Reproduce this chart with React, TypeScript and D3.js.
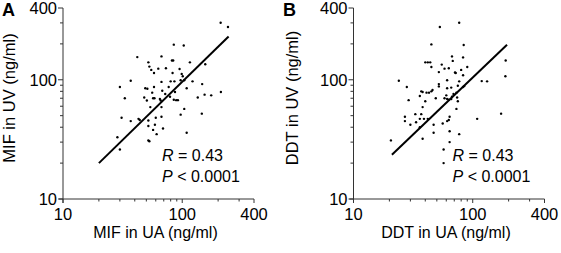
import React from "react";
import * as d3 from "d3";

const majorTicks = [10, 100, 400];
const minorTicks = [20, 30, 40, 50, 60, 70, 80, 90, 200, 300];

const mifUA = [210, 242, 85, 103, 42, 67, 52, 116, 82, 84, 156, 53, 63, 73, 95, 55, 58, 83, 99, 101, 37, 67, 80, 86, 97, 104, 122, 147, 30, 58, 77, 109, 49, 51, 68, 56, 87, 211, 154, 175, 72, 33, 48, 57, 58.5, 65, 79, 85, 89, 92, 50.5, 66, 135, 54, 67, 104, 97, 146, 31, 37, 43, 44, 60, 67, 52, 59, 52, 69, 57, 61, 109, 28.6, 52, 53, 30];
const mifUV = [301, 277, 197, 194, 155, 157, 140, 140, 145, 145, 135, 129, 124, 125, 123, 121, 114, 114, 112, 107, 98, 96, 97, 97, 99, 99, 97, 92, 87, 87, 87, 85, 85, 84, 81, 78, 79, 79, 75, 74, 76, 70, 71, 70, 70, 69, 72, 68, 67.5, 67.5, 67, 67, 71, 59, 59, 57, 51, 52, 48, 45, 47, 46, 48, 49, 45.5, 42, 41, 39, 38, 35, 36, 33, 31, 30.5, 26];
const mifFitUA = [20, 245];
const mifFitUV = [20, 231];

const ddtUA = [53, 77, 45, 84, 40, 42, 44, 45, 55, 67, 68, 83, 58, 63, 52, 71, 72, 80, 90, 83, 24, 61, 77, 189, 119, 132, 188, 28, 52, 52, 61, 66, 75, 83, 85, 37, 38, 41, 43, 45, 46, 36, 40, 49, 29, 58, 61, 63, 66, 67, 69, 73, 60, 74, 75, 38, 73, 27, 27, 33, 37, 36, 39, 30, 33.5, 42, 64, 63, 109, 173, 36, 47, 56, 61, 38, 47, 64, 77, 20.6, 64, 57, 57];
const ddtUV = [277, 301, 198, 196, 140, 140, 140, 128, 134, 157, 144, 154, 124, 125, 116, 115, 114, 121, 128, 109, 98, 99, 97, 145, 97.5, 97, 107, 87, 92, 88, 85, 86, 89, 87, 88.5, 80, 79, 78, 78, 80, 82, 73, 66, 70, 67.5, 70, 69, 68, 69, 72, 76, 78, 74, 71, 66, 59, 57, 49, 45, 51.5, 51.5, 47, 47, 42, 44, 47, 49, 46, 47, 52, 40, 42, 43, 45, 32, 36, 37, 35, 31, 30, 26, 20];
const ddtFitUA = [21, 194];
const ddtFitUV = [23.5, 197];

const FONT = "'Liberation Sans', Arial, Helvetica, sans-serif";

type PanelProps = {
  left: number;
  letter: string;
  letterX: number;
  xs: number[];
  ys: number[];
  fitX: number[];
  fitY: number[];
  xTitle: string;
  yTitle: string;
  yTitleX: number;
};

const TOP = 8;
const SIZE = 191;
const BOTTOM = TOP + SIZE;

function Panel({ left, letter, letterX, xs, ys, fitX, fitY, xTitle, yTitle, yTitleX }: PanelProps) {
  const x = d3.scaleLog().domain([10, 400]).range([left, left + SIZE]);
  const y = d3.scaleLog().domain([10, 400]).range([BOTTOM, TOP]);
  const axisColor = "#333";
  const line = d3
    .line<number>()
    .x((_, i) => x(fitX[i]))
    .y((_, i) => y(fitY[i]));
  return (
    <g fontFamily={FONT}>
      <text x={letterX} y={16} fontSize={18} fontWeight="bold" fill="#000">
        {letter}
      </text>
      <line x1={left} x2={left} y1={TOP} y2={BOTTOM + 4} stroke={axisColor} strokeWidth={1} />
      <line x1={left - 4} x2={left + SIZE} y1={BOTTOM} y2={BOTTOM} stroke={axisColor} strokeWidth={1} />
      {majorTicks.map((t) => (
        <g key={"my" + t}>
          <line x1={left - 5} x2={left} y1={y(t)} y2={y(t)} stroke={axisColor} />
          <text x={left - 6} y={y(t)} dy="0.35em" textAnchor="end" fontSize={16.5} fill="#000">
            {t}
          </text>
        </g>
      ))}
      {minorTicks.map((t) => (
        <line key={"ny" + t} x1={left - 3} x2={left} y1={y(t)} y2={y(t)} stroke={axisColor} />
      ))}
      {majorTicks.map((t) => (
        <g key={"mx" + t}>
          <line x1={x(t)} x2={x(t)} y1={BOTTOM} y2={BOTTOM + 4} stroke={axisColor} />
          <text x={x(t)} y={220} textAnchor="middle" fontSize={16.5} fill="#000">
            {t}
          </text>
        </g>
      ))}
      {minorTicks.map((t) => (
        <line key={"nx" + t} x1={x(t)} x2={x(t)} y1={BOTTOM} y2={BOTTOM + 2.5} stroke={axisColor} />
      ))}
      <text x={left + SIZE / 2 - 3} y={238} textAnchor="middle" fontSize={16} fill="#000">
        {xTitle}
      </text>
      <text
        transform={`translate(${yTitleX},${98}) rotate(-90)`}
        textAnchor="middle"
        fontSize={16.5}
        fill="#000"
      >
        {yTitle}
      </text>
      {xs.map((v, i) => (
        <circle key={"p" + i} cx={x(v)} cy={y(ys[i])} r={1.2} fill="#000" />
      ))}
      <path d={line(fitX) || ""} stroke="#000" strokeWidth={2} fill="none" />
      <text x={left + 99} y={161} fontSize={16} fill="#000">
        <tspan fontStyle="italic">R</tspan> = 0.43
      </text>
      <text x={left + 99} y={182} fontSize={16} fill="#000">
        <tspan fontStyle="italic">P</tspan> {"< 0.0001"}
      </text>
    </g>
  );
}

export default function App() {
  return (
    <svg
      width={561}
      height={253}
      style={{ position: "absolute", left: 0, top: 0, background: "#fff" }}
    >
      <rect width={561} height={253} fill="#fff" />
      <Panel
        left={63}
        letter="A"
        letterX={2}
        xs={mifUA}
        ys={mifUV}
        fitX={mifFitUA}
        fitY={mifFitUV}
        xTitle="MIF in UA (ng/ml)"
        yTitle="MIF in UV (ng/ml)"
        yTitleX={15}
      />
      <Panel
        left={353.5}
        letter="B"
        letterX={283}
        xs={ddtUA}
        ys={ddtUV}
        fitX={ddtFitUA}
        fitY={ddtFitUV}
        xTitle="DDT in UA (ng/ml)"
        yTitle="DDT in UV (ng/ml)"
        yTitleX={298}
      />
    </svg>
  );
}
